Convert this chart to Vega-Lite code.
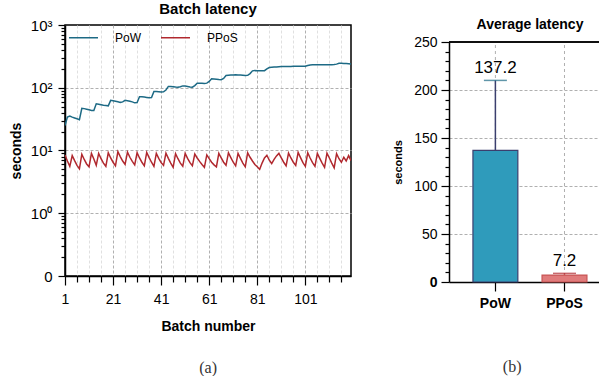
{
  "$schema": "https://vega.github.io/schema/vega-lite/v6.json",
  "padding": {"left": 8, "top": 1, "right": 0, "bottom": 0},
  "config": {"font": "Liberation Sans", "axis": {"domainColor": "black", "domainWidth": 1.5, "tickColor": "black", "tickWidth": 1.2, "labelColor": "black", "titleColor": "black"}},
  "datasets": {
    "lat": [
      {"batch":1,"protocol":"PoW","seconds":25},{"batch":2,"protocol":"PoW","seconds":34},{"batch":3,"protocol":"PoW","seconds":35.5},{"batch":4,"protocol":"PoW","seconds":34},{"batch":5,"protocol":"PoW","seconds":33},{"batch":6,"protocol":"PoW","seconds":32},{"batch":7,"protocol":"PoW","seconds":31},{"batch":8,"protocol":"PoW","seconds":47},{"batch":9,"protocol":"PoW","seconds":46.5},{"batch":10,"protocol":"PoW","seconds":45.5},
      {"batch":11,"protocol":"PoW","seconds":44.5},{"batch":12,"protocol":"PoW","seconds":43.5},{"batch":13,"protocol":"PoW","seconds":43.5},{"batch":14,"protocol":"PoW","seconds":55.5},{"batch":15,"protocol":"PoW","seconds":54.5},{"batch":16,"protocol":"PoW","seconds":53.5},{"batch":17,"protocol":"PoW","seconds":52.5},{"batch":18,"protocol":"PoW","seconds":52},{"batch":19,"protocol":"PoW","seconds":51.5},{"batch":20,"protocol":"PoW","seconds":63},
      {"batch":21,"protocol":"PoW","seconds":62},{"batch":22,"protocol":"PoW","seconds":61},{"batch":23,"protocol":"PoW","seconds":60},{"batch":24,"protocol":"PoW","seconds":58.5},{"batch":25,"protocol":"PoW","seconds":59.5},{"batch":26,"protocol":"PoW","seconds":63},{"batch":27,"protocol":"PoW","seconds":62},{"batch":28,"protocol":"PoW","seconds":61},{"batch":29,"protocol":"PoW","seconds":59.5},{"batch":30,"protocol":"PoW","seconds":57.5},
      {"batch":31,"protocol":"PoW","seconds":58},{"batch":32,"protocol":"PoW","seconds":72},{"batch":33,"protocol":"PoW","seconds":72},{"batch":34,"protocol":"PoW","seconds":71},{"batch":35,"protocol":"PoW","seconds":70},{"batch":36,"protocol":"PoW","seconds":69},{"batch":37,"protocol":"PoW","seconds":70},{"batch":38,"protocol":"PoW","seconds":87},{"batch":39,"protocol":"PoW","seconds":87.5},{"batch":40,"protocol":"PoW","seconds":86.5},
      {"batch":41,"protocol":"PoW","seconds":85.5},{"batch":42,"protocol":"PoW","seconds":86},{"batch":43,"protocol":"PoW","seconds":92},{"batch":44,"protocol":"PoW","seconds":105},{"batch":45,"protocol":"PoW","seconds":104.5},{"batch":46,"protocol":"PoW","seconds":104},{"batch":47,"protocol":"PoW","seconds":102.5},{"batch":48,"protocol":"PoW","seconds":102},{"batch":49,"protocol":"PoW","seconds":104},{"batch":50,"protocol":"PoW","seconds":107},
      {"batch":51,"protocol":"PoW","seconds":106.5},{"batch":52,"protocol":"PoW","seconds":105},{"batch":53,"protocol":"PoW","seconds":103},{"batch":54,"protocol":"PoW","seconds":102},{"batch":55,"protocol":"PoW","seconds":108},{"batch":56,"protocol":"PoW","seconds":118},{"batch":57,"protocol":"PoW","seconds":118},{"batch":58,"protocol":"PoW","seconds":117.5},{"batch":59,"protocol":"PoW","seconds":117},{"batch":60,"protocol":"PoW","seconds":118.5},
      {"batch":61,"protocol":"PoW","seconds":126},{"batch":62,"protocol":"PoW","seconds":139},{"batch":63,"protocol":"PoW","seconds":138},{"batch":64,"protocol":"PoW","seconds":137},{"batch":65,"protocol":"PoW","seconds":135},{"batch":66,"protocol":"PoW","seconds":134},{"batch":67,"protocol":"PoW","seconds":141},{"batch":68,"protocol":"PoW","seconds":157},{"batch":69,"protocol":"PoW","seconds":158},{"batch":70,"protocol":"PoW","seconds":159},
      {"batch":71,"protocol":"PoW","seconds":160},{"batch":72,"protocol":"PoW","seconds":161},{"batch":73,"protocol":"PoW","seconds":160},{"batch":74,"protocol":"PoW","seconds":159},{"batch":75,"protocol":"PoW","seconds":158},{"batch":76,"protocol":"PoW","seconds":157},{"batch":77,"protocol":"PoW","seconds":158},{"batch":78,"protocol":"PoW","seconds":168},{"batch":79,"protocol":"PoW","seconds":186},{"batch":80,"protocol":"PoW","seconds":188},
      {"batch":81,"protocol":"PoW","seconds":187},{"batch":82,"protocol":"PoW","seconds":186},{"batch":83,"protocol":"PoW","seconds":186},{"batch":84,"protocol":"PoW","seconds":187},{"batch":85,"protocol":"PoW","seconds":200},{"batch":86,"protocol":"PoW","seconds":210},{"batch":87,"protocol":"PoW","seconds":212},{"batch":88,"protocol":"PoW","seconds":214},{"batch":89,"protocol":"PoW","seconds":215},{"batch":90,"protocol":"PoW","seconds":217},
      {"batch":91,"protocol":"PoW","seconds":218},{"batch":92,"protocol":"PoW","seconds":218},{"batch":93,"protocol":"PoW","seconds":219},{"batch":94,"protocol":"PoW","seconds":219},{"batch":95,"protocol":"PoW","seconds":219},{"batch":96,"protocol":"PoW","seconds":220},{"batch":97,"protocol":"PoW","seconds":220},{"batch":98,"protocol":"PoW","seconds":220},{"batch":99,"protocol":"PoW","seconds":220},{"batch":100,"protocol":"PoW","seconds":220},
      {"batch":101,"protocol":"PoW","seconds":221},{"batch":102,"protocol":"PoW","seconds":226},{"batch":103,"protocol":"PoW","seconds":231},{"batch":104,"protocol":"PoW","seconds":232},{"batch":105,"protocol":"PoW","seconds":232},{"batch":106,"protocol":"PoW","seconds":233},{"batch":107,"protocol":"PoW","seconds":232},{"batch":108,"protocol":"PoW","seconds":233},{"batch":109,"protocol":"PoW","seconds":232},{"batch":110,"protocol":"PoW","seconds":233},
      {"batch":111,"protocol":"PoW","seconds":233},{"batch":112,"protocol":"PoW","seconds":232},{"batch":113,"protocol":"PoW","seconds":234},{"batch":114,"protocol":"PoW","seconds":238},{"batch":115,"protocol":"PoW","seconds":246},{"batch":116,"protocol":"PoW","seconds":245},{"batch":117,"protocol":"PoW","seconds":244},{"batch":118,"protocol":"PoW","seconds":243},{"batch":119,"protocol":"PoW","seconds":242},{"batch":120,"protocol":"PoW","seconds":240},
      {"batch":1,"protocol":"PPoS","seconds":8.5},{"batch":2,"protocol":"PPoS","seconds":6.8},{"batch":3,"protocol":"PPoS","seconds":5.6},{"batch":4,"protocol":"PPoS","seconds":8.3},{"batch":5,"protocol":"PPoS","seconds":6.9},{"batch":6,"protocol":"PPoS","seconds":5.8},{"batch":7,"protocol":"PPoS","seconds":5.1},{"batch":8,"protocol":"PPoS","seconds":8.7},{"batch":9,"protocol":"PPoS","seconds":7.2},{"batch":10,"protocol":"PPoS","seconds":6.1},
      {"batch":11,"protocol":"PPoS","seconds":5.5},{"batch":12,"protocol":"PPoS","seconds":9.0},{"batch":13,"protocol":"PPoS","seconds":7.3},{"batch":14,"protocol":"PPoS","seconds":5.8},{"batch":15,"protocol":"PPoS","seconds":9.0},{"batch":16,"protocol":"PPoS","seconds":7.4},{"batch":17,"protocol":"PPoS","seconds":6.3},{"batch":18,"protocol":"PPoS","seconds":5.6},{"batch":19,"protocol":"PPoS","seconds":9.2},{"batch":20,"protocol":"PPoS","seconds":7.6},
      {"batch":21,"protocol":"PPoS","seconds":6.5},{"batch":22,"protocol":"PPoS","seconds":5.7},{"batch":23,"protocol":"PPoS","seconds":9.6},{"batch":24,"protocol":"PPoS","seconds":8.0},{"batch":25,"protocol":"PPoS","seconds":6.8},{"batch":26,"protocol":"PPoS","seconds":6.0},{"batch":27,"protocol":"PPoS","seconds":9.4},{"batch":28,"protocol":"PPoS","seconds":7.8},{"batch":29,"protocol":"PPoS","seconds":6.7},{"batch":30,"protocol":"PPoS","seconds":5.9},
      {"batch":31,"protocol":"PPoS","seconds":9.2},{"batch":32,"protocol":"PPoS","seconds":7.6},{"batch":33,"protocol":"PPoS","seconds":6.5},{"batch":34,"protocol":"PPoS","seconds":5.7},{"batch":35,"protocol":"PPoS","seconds":9.3},{"batch":36,"protocol":"PPoS","seconds":7.7},{"batch":37,"protocol":"PPoS","seconds":6.5},{"batch":38,"protocol":"PPoS","seconds":5.6},{"batch":39,"protocol":"PPoS","seconds":9.0},{"batch":40,"protocol":"PPoS","seconds":7.5},
      {"batch":41,"protocol":"PPoS","seconds":6.4},{"batch":42,"protocol":"PPoS","seconds":5.8},{"batch":43,"protocol":"PPoS","seconds":9.1},{"batch":44,"protocol":"PPoS","seconds":7.5},{"batch":45,"protocol":"PPoS","seconds":6.3},{"batch":46,"protocol":"PPoS","seconds":5.4},{"batch":47,"protocol":"PPoS","seconds":8.9},{"batch":48,"protocol":"PPoS","seconds":7.4},{"batch":49,"protocol":"PPoS","seconds":6.3},{"batch":50,"protocol":"PPoS","seconds":5.6},
      {"batch":51,"protocol":"PPoS","seconds":9.0},{"batch":52,"protocol":"PPoS","seconds":7.5},{"batch":53,"protocol":"PPoS","seconds":6.4},{"batch":54,"protocol":"PPoS","seconds":5.7},{"batch":55,"protocol":"PPoS","seconds":8.8},{"batch":56,"protocol":"PPoS","seconds":7.6},{"batch":57,"protocol":"PPoS","seconds":6.7},{"batch":58,"protocol":"PPoS","seconds":6.0},{"batch":59,"protocol":"PPoS","seconds":5.4},{"batch":60,"protocol":"PPoS","seconds":8.5},
      {"batch":61,"protocol":"PPoS","seconds":7.4},{"batch":62,"protocol":"PPoS","seconds":6.5},{"batch":63,"protocol":"PPoS","seconds":5.9},{"batch":64,"protocol":"PPoS","seconds":5.5},{"batch":65,"protocol":"PPoS","seconds":9.0},{"batch":66,"protocol":"PPoS","seconds":7.6},{"batch":67,"protocol":"PPoS","seconds":6.5},{"batch":68,"protocol":"PPoS","seconds":5.8},{"batch":69,"protocol":"PPoS","seconds":9.2},{"batch":70,"protocol":"PPoS","seconds":7.7},
      {"batch":71,"protocol":"PPoS","seconds":6.5},{"batch":72,"protocol":"PPoS","seconds":5.7},{"batch":73,"protocol":"PPoS","seconds":9.0},{"batch":74,"protocol":"PPoS","seconds":7.5},{"batch":75,"protocol":"PPoS","seconds":6.3},{"batch":76,"protocol":"PPoS","seconds":5.5},{"batch":77,"protocol":"PPoS","seconds":9.2},{"batch":78,"protocol":"PPoS","seconds":7.8},{"batch":79,"protocol":"PPoS","seconds":6.8},{"batch":80,"protocol":"PPoS","seconds":6.0},
      {"batch":81,"protocol":"PPoS","seconds":5.5},{"batch":82,"protocol":"PPoS","seconds":5.0},{"batch":83,"protocol":"PPoS","seconds":6.3},{"batch":84,"protocol":"PPoS","seconds":7.6},{"batch":85,"protocol":"PPoS","seconds":8.4},{"batch":86,"protocol":"PPoS","seconds":7.0},{"batch":87,"protocol":"PPoS","seconds":6.2},{"batch":88,"protocol":"PPoS","seconds":7.2},{"batch":89,"protocol":"PPoS","seconds":8.2},{"batch":90,"protocol":"PPoS","seconds":9.0},
      {"batch":91,"protocol":"PPoS","seconds":7.6},{"batch":92,"protocol":"PPoS","seconds":6.5},{"batch":93,"protocol":"PPoS","seconds":5.7},{"batch":94,"protocol":"PPoS","seconds":9.1},{"batch":95,"protocol":"PPoS","seconds":7.6},{"batch":96,"protocol":"PPoS","seconds":6.5},{"batch":97,"protocol":"PPoS","seconds":5.8},{"batch":98,"protocol":"PPoS","seconds":9.3},{"batch":99,"protocol":"PPoS","seconds":7.7},{"batch":100,"protocol":"PPoS","seconds":6.4},
      {"batch":101,"protocol":"PPoS","seconds":5.6},{"batch":102,"protocol":"PPoS","seconds":9.2},{"batch":103,"protocol":"PPoS","seconds":7.6},{"batch":104,"protocol":"PPoS","seconds":6.4},{"batch":105,"protocol":"PPoS","seconds":5.6},{"batch":106,"protocol":"PPoS","seconds":9.0},{"batch":107,"protocol":"PPoS","seconds":7.5},{"batch":108,"protocol":"PPoS","seconds":6.3},{"batch":109,"protocol":"PPoS","seconds":5.4},{"batch":110,"protocol":"PPoS","seconds":9.1},
      {"batch":111,"protocol":"PPoS","seconds":7.6},{"batch":112,"protocol":"PPoS","seconds":6.3},{"batch":113,"protocol":"PPoS","seconds":5.3},{"batch":114,"protocol":"PPoS","seconds":8.9},{"batch":115,"protocol":"PPoS","seconds":7.4},{"batch":116,"protocol":"PPoS","seconds":6.5},{"batch":117,"protocol":"PPoS","seconds":7.8},{"batch":118,"protocol":"PPoS","seconds":6.8},{"batch":119,"protocol":"PPoS","seconds":8.3},{"batch":120,"protocol":"PPoS","seconds":6.9}
    ],
    "avg": [
      {"protocol": "PoW", "mean": 137.2, "upper": 210},
      {"protocol": "PPoS", "mean": 7.2, "upper": 9}
    ]
  },
  "hconcat": [
    {
      "title": {"text": "(a)", "orient": "bottom", "anchor": "middle", "font": "Liberation Serif", "fontSize": 16, "fontWeight": "normal", "offset": 26, "dx": 28, "color": "#333"},
      "vconcat": [
        {
          "width": 286,
          "height": 251,
          "view": {"stroke": "black", "strokeWidth": 1.5},
          "title": {"text": "Batch latency", "fontSize": 15, "fontWeight": "bold", "frame": "group", "offset": 1, "anchor": "middle", "color": "black"},
          "data": {"name": "lat"},
          "mark": {"type": "line", "strokeWidth": 1.5, "clip": true},
          "encoding": {
            "x": {
              "field": "batch", "type": "quantitative",
              "scale": {"domain": [1, 120], "nice": false, "zero": false},
              "axis": {
                "title": "Batch number", "titleFontSize": 14, "titleFontWeight": "bold", "titlePadding": 13,
                "values": [1,6,11,16,21,26,31,36,41,46,51,56,61,66,71,76,81,86,91,96,101,106,111,116],
                "labelExpr": "(datum.value - 1) % 20 == 0 ? datum.label : ''",
                "labelFontSize": 14, "labelPadding": 7, "labelFlush": false,
                "tickSize": {"condition": {"test": "(datum.value - 1) % 20 == 0", "value": 9}, "value": 6},
                "grid": true,
                "gridColor": {"condition": {"test": "(datum.value - 1) % 20 == 0", "value": "#b0b0b0"}, "value": "#e0e0e0"},
                "gridDash": [3, 2]
              }
            },
            "y": {
              "field": "seconds", "type": "quantitative",
              "scale": {"type": "log", "domain": [0.1, 1000], "nice": false},
              "axis": {
                "title": "seconds", "titleFontSize": 14, "titleFontWeight": "bold", "titlePadding": 7,
                "values": [0.1,0.2,0.3,0.4,0.5,0.6,0.7,0.8,0.9,1,2,3,4,5,6,7,8,9,10,20,30,40,50,60,70,80,90,100,200,300,400,500,600,700,800,900,1000],
                "labelExpr": "datum.value == 0.1 ? '0' : datum.value == 1 ? '10⁰' : datum.value == 10 ? '10¹' : datum.value == 100 ? '10²' : datum.value == 1000 ? '10³' : ''",
                "labelFontSize": 15, "labelPadding": 6,
                "tickSize": {"condition": {"test": "datum.value == 0.1 || datum.value == 1 || datum.value == 10 || datum.value == 100 || datum.value == 1000", "value": 7}, "value": 4},
                "grid": true,
                "gridOpacity": {"condition": {"test": "datum.value == 1 || datum.value == 10 || datum.value == 100", "value": 1}, "value": 0},
                "gridColor": "#b0b0b0", "gridDash": [3, 2]
              }
            },
            "color": {
              "field": "protocol", "type": "nominal",
              "scale": {"domain": ["PoW", "PPoS"], "range": ["#1d6a85", "#b0282e"]},
              "legend": {"title": null, "orient": "none", "legendX": 3, "legendY": -3, "direction": "horizontal", "symbolType": "stroke", "symbolSize": 840, "symbolStrokeWidth": 1.5, "labelFontSize": 12, "labelOffset": 16, "columnPadding": 16, "padding": 0}
            }
          }
        }
      ]
    },
    {
      "title": {"text": "(b)", "orient": "bottom", "anchor": "middle", "font": "Liberation Serif", "fontSize": 16, "fontWeight": "normal", "offset": 49, "dx": 15, "color": "#333"},
      "vconcat": [
        {
          "width": 152,
          "height": 257,
          "view": {"stroke": null},
          "title": {"text": "Average latency", "fontSize": 14, "fontWeight": "bold", "frame": "group", "offset": 2, "dy": 9, "anchor": "middle", "dx": 5, "color": "black"},
          "data": {"name": "avg"},
          "resolve": {"axis": {"x": "independent", "y": "independent"}},
          "layer": [
            {
              "mark": {"type": "rule", "color": "#b0b0b0", "strokeWidth": 1, "strokeDash": [3, 3]},
              "encoding": {
                "x": {"field": "protocol", "type": "nominal", "sort": ["PoW", "PPoS"], "axis": null},
                "y": {"datum": 0, "type": "quantitative", "axis": null},
                "y2": {"datum": 250}
              }
            },
            {
              "mark": {"type": "bar", "strokeWidth": 1.2},
              "encoding": {
                "x": {
                  "field": "protocol", "type": "nominal", "sort": ["PoW", "PPoS"],
                  "scale": {"paddingInner": 0.35, "paddingOuter": 0.275, "align": 0.63},
                  "axis": {"orient": "bottom", "title": null, "labelAngle": 0, "labelFontSize": 14, "labelFontWeight": "bold", "labelPadding": 5, "tickSize": 9, "grid": false}
                },
                "y": {
                  "field": "mean", "type": "quantitative",
                  "scale": {"domain": [0, 250], "nice": false, "range": [257, 17]},
                  "axis": {
                    "orient": "left",
                    "title": "seconds", "titleFontSize": 11, "titleFontWeight": "bold", "titlePadding": 10,
                    "values": [0,10,20,30,40,50,60,70,80,90,100,110,120,130,140,150,160,170,180,190,200,210,220,230,240,250],
                    "labelExpr": "datum.value % 50 == 0 ? datum.label : ''",
                    "labelFontSize": 14, "labelPadding": 4,
                    "labelFontWeight": {"condition": {"test": "datum.value == 0", "value": "bold"}, "value": "normal"},
                    "tickSize": {"condition": {"test": "datum.value % 50 == 0", "value": 8}, "value": 4},
                    "grid": true,
                    "gridOpacity": {"condition": {"test": "datum.value % 50 == 0 && datum.value > 0 && datum.value < 250", "value": 1}, "value": 0},
                    "gridColor": "#b0b0b0", "gridDash": [3, 2]
                  }
                },
                "fill": {"field": "protocol", "type": "nominal", "scale": {"domain": ["PoW", "PPoS"], "range": ["#2f9bbb", "#e07b7b"]}, "legend": null},
                "stroke": {"field": "protocol", "type": "nominal", "scale": {"domain": ["PoW", "PPoS"], "range": ["#3b3f6e", "#c85555"]}, "legend": null}
              }
            },
            {
              "mark": {"type": "rule", "strokeWidth": 1.5},
              "encoding": {
                "x": {"field": "protocol", "type": "nominal", "sort": ["PoW", "PPoS"], "axis": null},
                "y": {"field": "mean", "type": "quantitative", "axis": null},
                "y2": {"field": "upper"},
                "stroke": {"field": "protocol", "type": "nominal", "legend": null}
              }
            },
            {
              "mark": {"type": "tick", "size": 23, "thickness": 1.5, "orient": "horizontal"},
              "encoding": {
                "x": {"field": "protocol", "type": "nominal", "sort": ["PoW", "PPoS"], "axis": null},
                "y": {"field": "upper", "type": "quantitative", "axis": null},
                "color": {"field": "protocol", "type": "nominal", "scale": {"domain": ["PoW", "PPoS"], "range": ["#4a4570", "#d46a6a"]}, "legend": null}
              }
            },
            {
              "mark": {"type": "text", "fontSize": 17, "baseline": "alphabetic", "dy": -7, "color": "black"},
              "encoding": {
                "x": {"field": "protocol", "type": "nominal", "sort": ["PoW", "PPoS"], "axis": null},
                "y": {"field": "upper", "type": "quantitative", "axis": null},
                "text": {"field": "mean", "type": "quantitative", "format": ".1f"}
              }
            },
            {
              "mark": {"type": "rule", "color": "black", "strokeWidth": 1.5},
              "encoding": {"y": {"datum": 250, "type": "quantitative", "axis": null}}
            }
          ]
        }
      ]
    }
  ],
  "spacing": 40
}
